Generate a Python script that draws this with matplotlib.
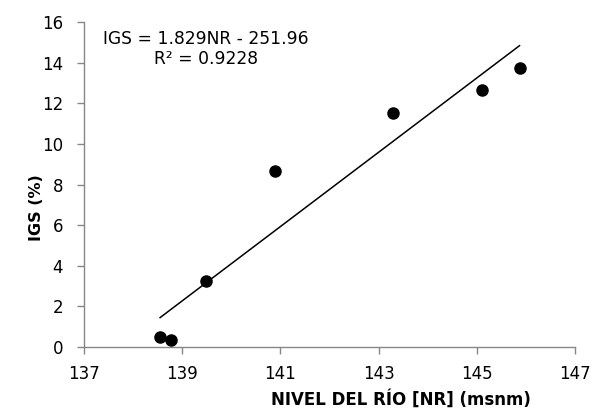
import numpy as np
import matplotlib
matplotlib.use("Agg")
import matplotlib.pyplot as plt

plt.rcParams['font.family'] = ['DejaVu Sans']

# datos: nivel del rio (msnm) vs IGS (%)
nivel = [138.55, 138.77, 139.48, 140.9, 143.29, 145.1, 145.87]
igs = [0.49, 0.34, 3.25, 8.67, 11.53, 12.63, 13.74]

# recta de ajuste dada en la grafica
m = 1.829
b = -251.96
r2 = 0.9228

x_ticks = [137, 139, 141, 143, 145, 147]
y_ticks = [0, 2, 4, 6, 8, 10, 12, 14, 16]

fig = plt.figure(figsize=(5.94, 4.08), dpi=100)
ax = fig.add_axes([0.1414, 0.1495, 0.8266, 0.7965])

xl = np.array([min(nivel), max(nivel)])
ax.plot(xl, m * xl + b, color='black', linewidth=1.1)
ax.plot(nivel, igs, 'o', color='black', markersize=8, zorder=3)

ax.set_xlim(137, 147)
ax.set_ylim(0, 16)
ax.set_xticks(x_ticks)
ax.set_yticks(y_ticks)

gris = '#868686'
for s in ['top', 'right']:
    ax.spines[s].set_visible(False)
for s in ['left', 'bottom']:
    ax.spines[s].set_color(gris)
    ax.spines[s].set_linewidth(1.0)
ax.tick_params(direction='out', length=5, width=1.0, color=gris,
               labelsize=12, labelcolor='black')
ax.tick_params(axis='x', pad=8)
ax.tick_params(axis='y', pad=10)

ax.set_xlabel('NIVEL DEL RÍO [NR] (msnm)', fontsize=12, fontweight='bold')
ax.set_ylabel('IGS (%)', fontsize=11.5, fontweight='bold')
ax.xaxis.label.set_va('center')
ax.yaxis.label.set_va('center')
ax.yaxis.label.set_ha('center')
ax.xaxis.set_label_coords((401 - 84) / 491, -(399 - 347) / 325)
ax.yaxis.set_label_coords(-(84 - 37) / 491, (347 - 208) / 325)

ax.text((206 - 84) / 491, (347 - 49) / 325,
        'IGS = 1.829NR - 251.96\nR² = 0.9228',
        transform=ax.transAxes, ha='center', va='center',
        multialignment='center', fontsize=12.3, linespacing=1.1)

fig.savefig('out.png', dpi=100)
